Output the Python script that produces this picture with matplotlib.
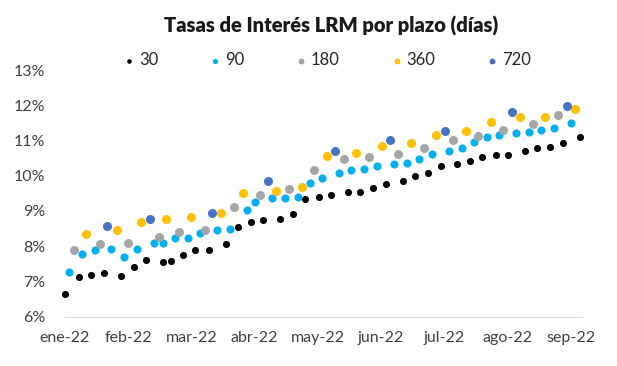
import matplotlib
matplotlib.use("Agg")
import matplotlib.pyplot as plt
from matplotlib.ticker import FuncFormatter

plt.rcParams['font.family'] = ['Lato', 'DejaVu Sans']

# x positions are in months since start of jan-22 (0 = ene-22, 1 = feb-22, ...)
month_labels = ['ene-22', 'feb-22', 'mar-22', 'abr-22', 'may-22',
                'jun-22', 'jul-22', 'ago-22', 'sep-22']

x_30 = [0.00, 0.22, 0.41, 0.62, 0.88, 1.09, 1.28, 1.55, 1.67, 1.87, 2.06, 2.27,
        2.54, 2.74, 2.94, 3.13, 3.40, 3.60, 3.80, 4.01, 4.21, 4.47, 4.67, 4.87,
        5.07, 5.34, 5.54, 5.74, 5.94, 6.20, 6.40, 6.60, 6.81, 7.00, 7.27, 7.47,
        7.67, 7.87, 8.14]
y_30 = [6.64, 7.13, 7.19, 7.25, 7.15, 7.40, 7.61, 7.55, 7.57, 7.76, 7.89, 7.89,
        8.05, 8.55, 8.69, 8.74, 8.78, 8.91, 9.35, 9.41, 9.46, 9.53, 9.55, 9.65,
        9.77, 9.84, 10.00, 10.09, 10.28, 10.33, 10.41, 10.52, 10.59, 10.60, 10.70,
        10.79, 10.81, 10.92, 11.10]

x_90 = [0.07, 0.27, 0.47, 0.73, 0.94, 1.14, 1.40, 1.55, 1.74, 1.94, 2.14, 2.41,
        2.61, 2.88, 3.01, 3.28, 3.48, 3.68, 3.87, 4.07, 4.34, 4.53, 4.73, 4.93,
        5.20, 5.40, 5.59, 5.80, 6.07, 6.27, 6.46, 6.67, 6.87, 7.13, 7.33, 7.53,
        7.73, 8.00]
y_90 = [7.27, 7.78, 7.88, 7.92, 7.69, 7.91, 8.09, 8.09, 8.24, 8.24, 8.38, 8.45,
        8.50, 9.04, 9.25, 9.36, 9.36, 9.41, 9.80, 9.93, 10.09, 10.17, 10.20, 10.27,
        10.33, 10.36, 10.47, 10.61, 10.71, 10.80, 10.97, 11.10, 11.16, 11.20, 11.25,
        11.31, 11.35, 11.49]

x_180 = [0.15, 0.55, 1.00, 1.48, 1.81, 2.21, 2.67, 3.08, 3.54, 3.94, 4.41, 4.81,
         5.27, 5.67, 6.14, 6.53, 6.93, 7.40, 7.80]
y_180 = [7.88, 8.05, 8.10, 8.25, 8.40, 8.46, 9.11, 9.46, 9.62, 10.16, 10.47, 10.52,
         10.62, 10.78, 11.01, 11.13, 11.31, 11.47, 11.72]

x_360 = [0.34, 0.82, 1.20, 1.60, 2.00, 2.47, 2.81, 3.34, 3.74, 4.14, 4.60, 5.01,
         5.47, 5.86, 6.34, 6.73, 7.19, 7.59, 8.06]
y_360 = [8.35, 8.45, 8.70, 8.76, 8.84, 8.95, 9.51, 9.56, 9.69, 10.57, 10.65, 10.85,
         10.92, 11.15, 11.27, 11.52, 11.67, 11.67, 11.90]

x_720 = [0.67, 1.35, 2.33, 3.21, 4.27, 5.14, 6.01, 7.07, 7.93]
y_720 = [8.57, 8.76, 8.95, 9.85, 10.71, 11.01, 11.26, 11.80, 11.98]

series = [
    ('30', x_30, y_30, '#000000', 26),
    ('90', x_90, y_90, '#00B0F0', 34),
    ('180', x_180, y_180, '#A5A5A5', 42),
    ('360', x_360, y_360, '#FFC000', 42),
    ('720', x_720, y_720, '#4472C4', 42),
]

fig = plt.figure(figsize=(6.17, 3.66), dpi=100)
ax = fig.add_axes([0.1053, 0.1347, 0.8375, 0.674])

for name, xs, ys, col, s in series:
    ax.scatter(xs, ys, s=s, color=col, label=name, linewidths=0, clip_on=False, zorder=3)

ax.set_xlim(0, 8.17)
ax.set_ylim(6, 13)
ax.set_yticks(range(6, 14))
ax.yaxis.set_major_formatter(FuncFormatter(lambda v, p: f'{int(v)}%'))
ax.set_xticks(range(len(month_labels)))
ax.set_xticklabels(month_labels)

for side in ['top', 'right', 'left']:
    ax.spines[side].set_visible(False)
ax.spines['bottom'].set_color('#D9D9D9')
ax.tick_params(axis='both', length=0, labelsize=11.5, colors='#404040')
ax.tick_params(axis='y', pad=14)
ax.tick_params(axis='x', pad=10)

fig.text(0.536, 0.928, 'Tasas de Interés LRM por plazo (días)', ha='center', va='center',
         fontsize=14.5, fontweight='heavy', color='#1a1a1a')

leg = ax.legend(loc='center', bbox_to_anchor=(0.505, 1.04), ncol=5, frameon=False,
                fontsize=12, markerscale=0.65, handletextpad=0.1, columnspacing=2.9,
                handlelength=1.0)
for t in leg.get_texts():
    t.set_color('#262626')

fig.savefig('out.png', dpi=100)
